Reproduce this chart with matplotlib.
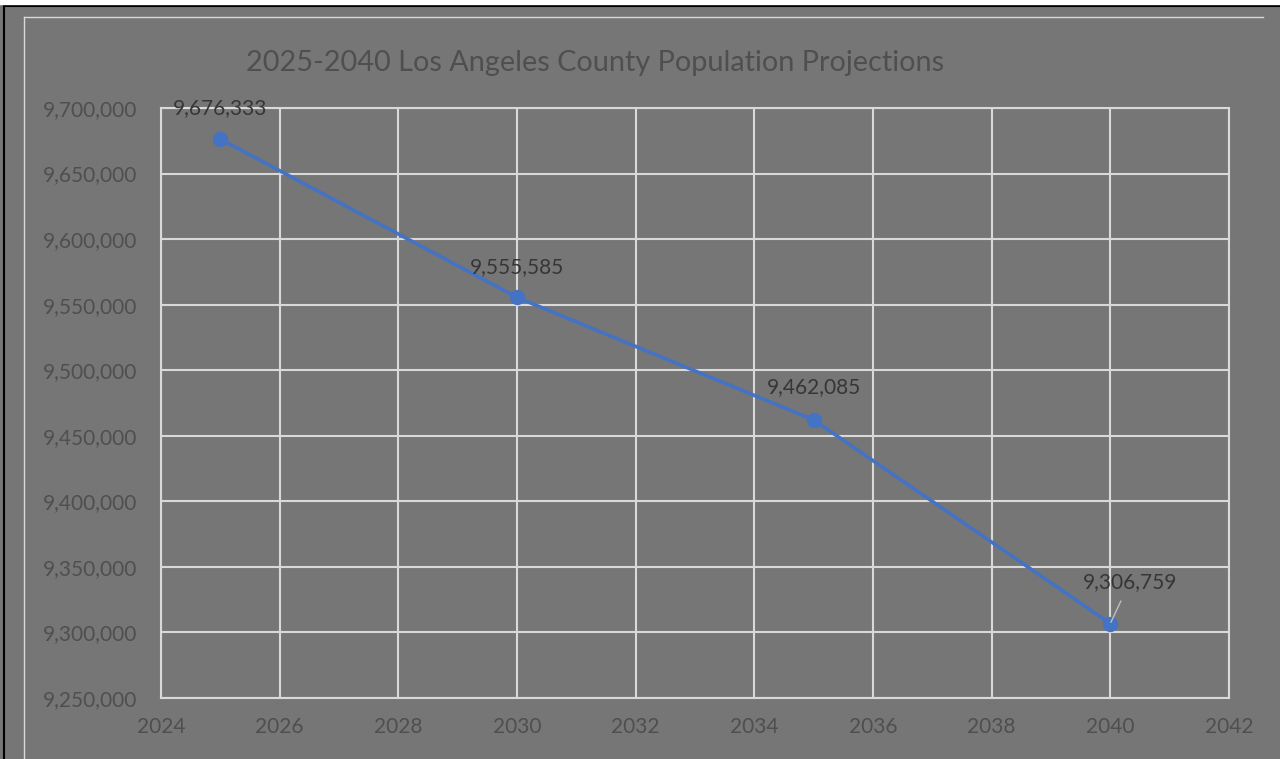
import matplotlib.pyplot as plt
from matplotlib.lines import Line2D
from matplotlib.ticker import FuncFormatter

# Data
years = [2025, 2030, 2035, 2040]
population = [9676333, 9555585, 9462085, 9306759]
# label offsets (points) relative to each marker
label_dx = [0, 0, 0, 14]
label_dy = [22, 22, 24, 30]

bg = '#767676'
grid_col = '#d9d9d9'
text_col = '#4f4f4f'
label_col = '#363636'
line_col = '#4472c4'

plt.rcParams['font.family'] = ['Lato', 'DejaVu Sans']

fig = plt.figure(figsize=(12.8, 7.59), dpi=100, facecolor=bg)
ax = fig.add_axes([161/1280, 61/759, 1068/1280, 590/759])
ax.set_facecolor(bg)

ax.plot(years, population, color=line_col, linewidth=2.6, marker='o', markersize=10, zorder=3)

for x, y, dx, dy in zip(years, population, label_dx, label_dy):
    if dx:
        ax.annotate(f'{y:,}', (x, y), xytext=(dx, dy), textcoords='offset points',
                    ha='center', va='center', fontsize=15, color=label_col,
                    arrowprops=dict(arrowstyle='-', color='#bfbfbf', lw=1, shrinkA=5, shrinkB=1))
    else:
        ax.annotate(f'{y:,}', (x, y), xytext=(dx, dy), textcoords='offset points',
                    ha='center', va='center', fontsize=15, color=label_col)

ax.set_xlim(2024, 2042)
ax.set_ylim(9250000, 9700000)
ax.set_xticks(range(2024, 2043, 2))
ax.set_yticks(range(9250000, 9700001, 50000))
ax.yaxis.set_major_formatter(FuncFormatter(lambda v, p: f'{int(v):,}'))
ax.grid(True, color=grid_col, linewidth=1.5)
ax.set_axisbelow(True)
ax.tick_params(length=0, labelsize=15, labelcolor=text_col)
ax.tick_params(axis='y', pad=17)
ax.tick_params(axis='x', pad=14)
for s in ax.spines.values():
    s.set_color(grid_col)
    s.set_linewidth(1.5)

fig.text(595/1280, 1 - 63/759, '2025-2040 Los Angeles County Population Projections',
         ha='center', va='center', fontsize=20.8, color=text_col)

# outer frame lines (cropped chart border)
fig.add_artist(Line2D([4/1280, 4/1280], [0, 1 - 6/759], color='black', lw=1.5))
fig.add_artist(Line2D([4/1280, 1], [1 - 6/759, 1 - 6/759], color='black', lw=1.5))
fig.add_artist(Line2D([24/1280, 24/1280], [0, 1 - 17/759], color=grid_col, lw=1))
fig.add_artist(Line2D([24/1280, 1263/1280], [1 - 17/759, 1 - 17/759], color=grid_col, lw=1))
fig.add_artist(Line2D([0, 1], [1 - 1/759, 1 - 1/759], color='white', lw=6))

plt.savefig('out.png', dpi=100, facecolor=bg)
